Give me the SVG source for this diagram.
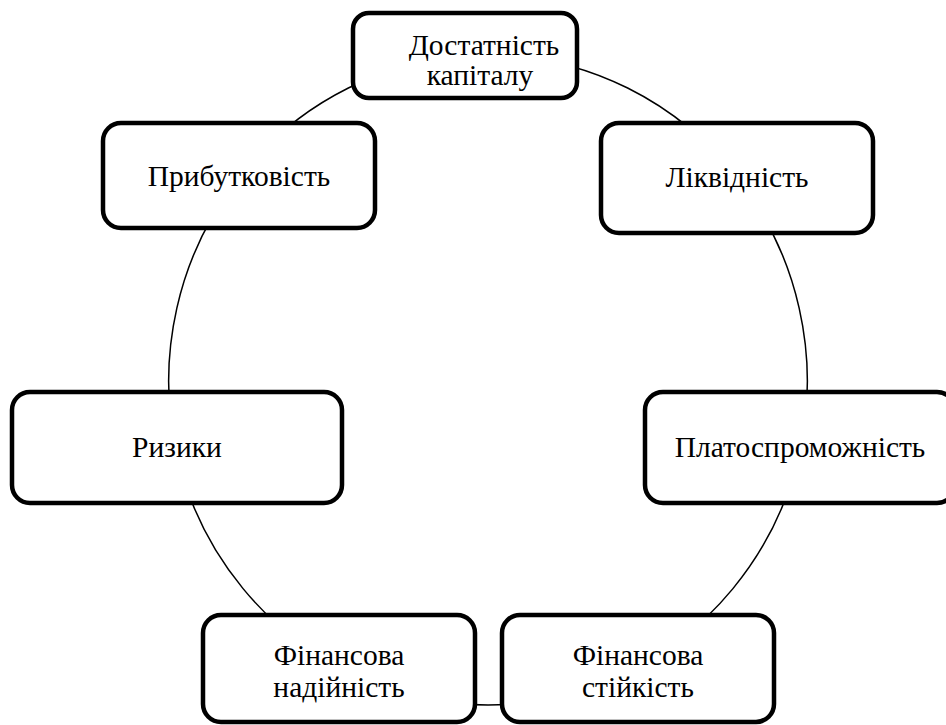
<svg xmlns="http://www.w3.org/2000/svg" width="946" height="725" viewBox="0 0 946 725">
<style>
.box{fill:#fff;stroke:#000;stroke-width:4.5}
.lbl{font-family:"Liberation Serif","Times New Roman",serif;font-size:29.5px;fill:#000;text-anchor:middle}
.con{fill:none;stroke:#000;stroke-width:1.5}
</style>
<rect width="946" height="725" fill="#fff"/>
<g id="connectors">
<path class="con" d="M488,55 A319,325 0 0 1 739,180"/>
<path class="con" d="M739,180 A319,325 0 0 1 800,450"/>
<path class="con" d="M800,450 A319,325 0 0 1 610.6,680"/>
<path class="con" d="M610.6,680 A319,325 0 0 1 365.4,680"/>
<path class="con" d="M365.4,680 A319,325 0 0 1 176,450"/>
<path class="con" d="M176,450 A319,325 0 0 1 237,180"/>
<path class="con" d="M237,180 A319,325 0 0 1 488,55"/>
</g>
<g id="node-capital">
<rect class="box" x="353" y="13" width="224" height="85" rx="16"/>
<text class="lbl" x="484" y="55">Достатність</text>
<text class="lbl" x="480" y="85">капіталу</text>
</g>
<g id="node-liquidity">
<rect class="box" x="601" y="123" width="272" height="110" rx="18"/>
<text class="lbl" x="737" y="187">Ліквідність</text>
</g>
<g id="node-solvency">
<rect class="box" x="645" y="392" width="310" height="111" rx="18"/>
<text class="lbl" x="800" y="457">Платоспроможність</text>
</g>
<g id="node-stability">
<rect class="box" x="502" y="615" width="272" height="107" rx="18"/>
<text class="lbl" x="638" y="665">Фінансова</text>
<text class="lbl" x="638" y="697">стійкість</text>
</g>
<g id="node-reliability">
<rect class="box" x="203" y="615" width="272" height="107" rx="18"/>
<text class="lbl" x="339" y="665">Фінансова</text>
<text class="lbl" x="339" y="697">надійність</text>
</g>
<g id="node-risks">
<rect class="box" x="12" y="392" width="330" height="111" rx="18"/>
<text class="lbl" x="177" y="457">Ризики</text>
</g>
<g id="node-profit">
<rect class="box" x="103" y="123" width="272" height="105" rx="18"/>
<text class="lbl" x="239" y="186">Прибутковість</text>
</g>
</svg>
